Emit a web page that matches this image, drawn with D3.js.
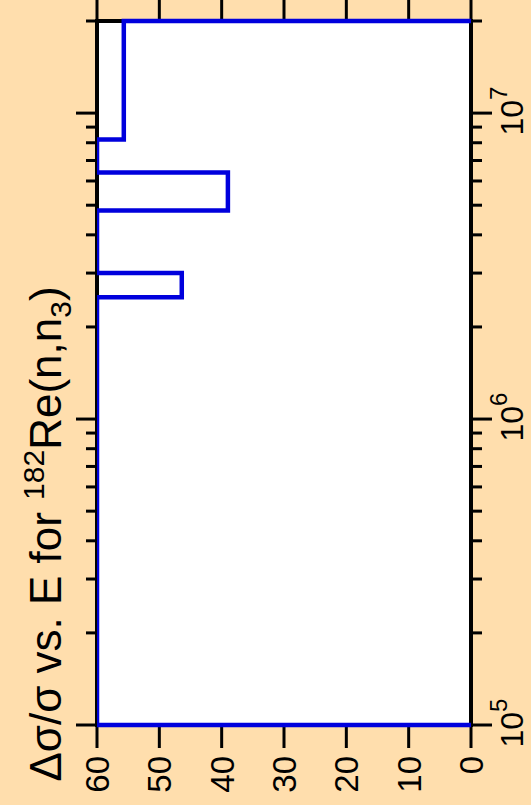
<!DOCTYPE html>
<html><head><meta charset="utf-8">
<script src="https://cdn.jsdelivr.net/npm/d3@7"></script>
<style>html,body{margin:0;padding:0;background:#FFDEAD;}svg{display:block;}</style>
</head><body>
<script>
// Data
const binEdges = [1e5, 2.5e6, 3e6, 4.8e6, 6.4e6, 8.2e6, 2e7];   // energy (eV) bin edges
const binValues = [60, 46.4, 60, 39.0, 60, 55.7];               // Δσ/σ (%) per bin (60 = off scale)
const valueTicks = [0, 10, 20, 30, 40, 50, 60];
const energyMajor = [1e5, 1e6, 1e7];
const energyLabels = ["5", "6", "7"];

(function () {
const W = 531, H = 805;
const svg = d3.select("body").append("svg").attr("width", W).attr("height", H)
  .style("font-family", "'Liberation Sans', Arial, sans-serif");
svg.append("rect").attr("width", W).attr("height", H).attr("fill", "#FFDEAD");

const pL = 97, pR = 471, pT = 21, pB = 725;
const x = d3.scaleLinear().domain([60, 0]).range([pL, pR]);
const y = d3.scaleLog().domain([1e5, 2e7]).range([pB, pT]);

svg.append("rect").attr("x", pL).attr("y", pT).attr("width", pR - pL).attr("height", pB - pT)
  .attr("fill", "#fff");

// ticks
const tickG = svg.append("g").attr("stroke", "#000").attr("stroke-width", 3);
valueTicks.forEach(v => {
  tickG.append("line").attr("x1", x(v)).attr("x2", x(v)).attr("y1", pB).attr("y2", pB + 23);
  tickG.append("line").attr("x1", x(v)).attr("x2", x(v)).attr("y1", pT).attr("y2", pT - 24);
});
const eTicks = y.ticks().filter(t => t >= 1e5 && t <= 2e7);
eTicks.forEach(t => {
  const isMaj = energyMajor.includes(t);
  const len = isMaj ? 21 : 11;
  tickG.append("line").attr("x1", pL).attr("x2", pL - len).attr("y1", y(t)).attr("y2", y(t));
  tickG.append("line").attr("x1", pR).attr("x2", pR + len).attr("y1", y(t)).attr("y2", y(t));
});

// frame
svg.append("rect").attr("x", pL).attr("y", pT).attr("width", pR - pL).attr("height", pB - pT)
  .attr("fill", "none").attr("stroke", "#000").attr("stroke-width", 4);

// histogram
svg.append("clipPath").attr("id", "clip").append("rect")
  .attr("x", pL).attr("y", 0).attr("width", W - pL).attr("height", H);
const pts = [[0, binEdges[0]]];
binValues.forEach((v, i) => { pts.push([v, binEdges[i]]); pts.push([v, binEdges[i + 1]]); });
pts.push([0, binEdges[binEdges.length - 1]]);
const line = d3.line().x(d => x(d[0])).y(d => y(d[1])).curve(d3.curveLinear);
svg.append("path").attr("d", line(pts)).attr("fill", "none").attr("stroke", "#0000dd")
  .attr("stroke-width", 4.5).attr("stroke-linejoin", "miter").attr("clip-path", "url(#clip)");

// value labels (bottom)
valueTicks.forEach(v => {
  svg.append("text").attr("transform", `translate(${x(v)},756) rotate(-90)`)
    .attr("text-anchor", "end").attr("dy", "0.36em").attr("font-size", 33).attr("fill", "#000")
    .text(v);
});

// energy labels (right)
energyMajor.forEach((t, i) => {
  const tx = svg.append("text").attr("transform", `translate(523,${y(t) - 2}) rotate(-90)`)
    .attr("text-anchor", "middle").attr("font-size", 32).attr("fill", "#000");
  tx.append("tspan").text("10");
  tx.append("tspan").attr("dy", -16).attr("font-size", 24).text(energyLabels[i]);
});

// title
const title = svg.append("text").attr("transform", "translate(61,534) rotate(-90)")
  .attr("text-anchor", "middle").attr("font-size", 44).attr("fill", "#000");
title.append("tspan").text("Δσ/σ vs. E for ");
title.append("tspan").attr("dy", -17).attr("font-size", 30).text("182");
title.append("tspan").attr("dy", 17).text("Re(n,n");
title.append("tspan").attr("dy", 10).attr("font-size", 30).text("3");
title.append("tspan").attr("dy", -10).text(")");
})();
</script>
</body></html>
